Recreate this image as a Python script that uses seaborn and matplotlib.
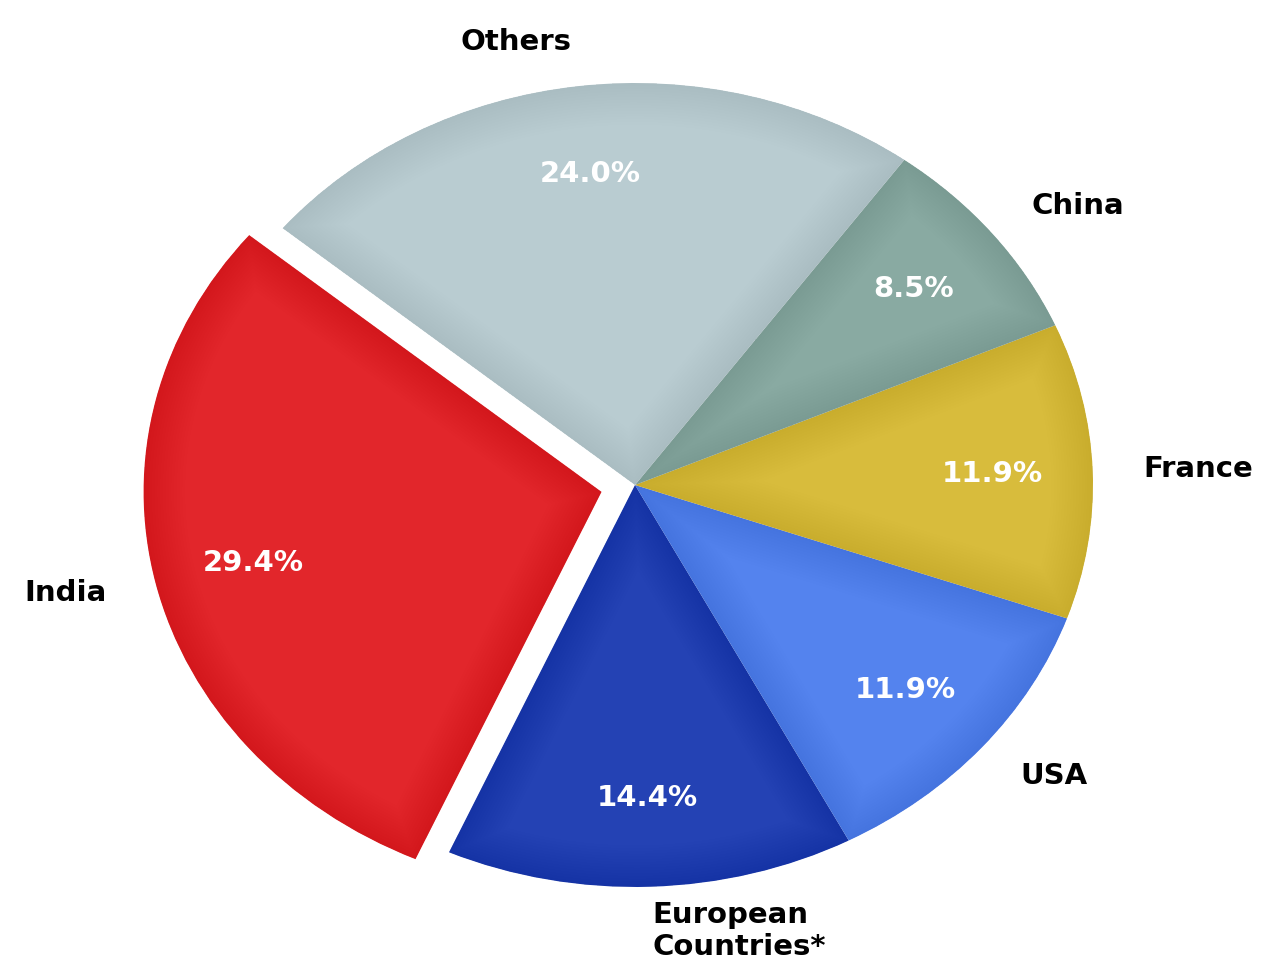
import matplotlib
matplotlib.use("Agg")
import matplotlib.pyplot as plt
from matplotlib.patches import Wedge
import seaborn as sns

# shares (counterclockwise from India)
labels = ["India", "European\nCountries*", "USA", "France", "China", "Others"]
shares = [29.4, 14.4, 11.9, 11.9, 8.5, 24.0]
colors = ["#E2262B", "#2442B4", "#5483EE", "#D8BC3C", "#89AAA2", "#B9CCD1"]
explode = [0.075, 0, 0, 0, 0, 0]

sns.set_theme(style="white")
plt.rcParams['font.family'] = ['DejaVu Sans']

fig = plt.figure(figsize=(12.8, 9.75), dpi=100)
ax = fig.add_axes([0, 0, 1, 1])

wedges, texts, autotexts = ax.pie(
    shares, labels=labels, colors=colors, explode=explode,
    startangle=140.3, autopct="%.1f%%", pctdistance=0.78, labeldistance=1.11,
    wedgeprops=dict(linewidth=0),
    textprops=dict(fontsize=21, fontweight="bold", color="black"),
)
for t in autotexts:
    t.set_color("white")

# soft darkening along the slice borders, clipped to each slice
for w in wedges:
    for lw in range(4, 64, 4):
        shade = Wedge(w.center, w.r, w.theta1, w.theta2, facecolor="none",
                      edgecolor="black", linewidth=lw, alpha=0.0045,
                      zorder=w.get_zorder() + 0.1)
        ax.add_patch(shade)
        shade.set_clip_path(w)

# the original pie is stretched sideways
ax.set_aspect("auto")
ax.set_xlim(-1.3865, 1.4083)
ax.set_ylim(-1.219, 1.2065)
ax.axis("off")

fig.savefig("out.png", dpi=100)
